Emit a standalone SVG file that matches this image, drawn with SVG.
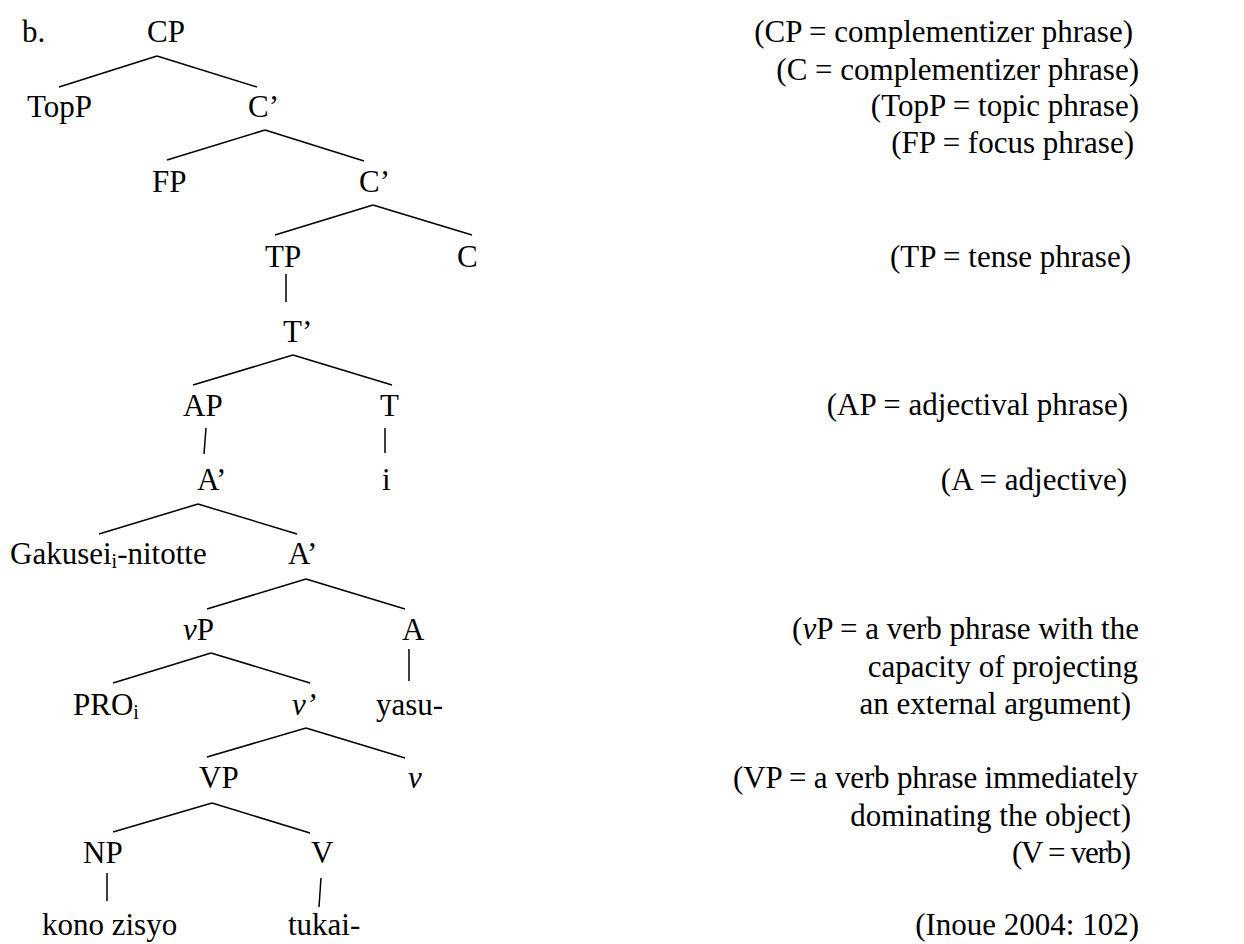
<svg xmlns="http://www.w3.org/2000/svg" width="1244" height="944" viewBox="0 0 1244 944">
<style>
text{font-family:"Liberation Serif","Times New Roman",serif;font-size:31px;fill:#000}
.r{text-anchor:end}
.it{font-style:italic}
.sub{font-size:20px}
#connectors line{stroke:#000;stroke-width:1.5;stroke-linecap:butt}
</style>
<rect width="1244" height="944" fill="#fff"/>
<g id="connectors">
<line x1="157" y1="56" x2="59" y2="87"/>
<line x1="157" y1="56" x2="257" y2="87"/>
<line x1="265" y1="130" x2="167" y2="160"/>
<line x1="265" y1="130" x2="364" y2="161"/>
<line x1="373" y1="205" x2="275" y2="235"/>
<line x1="373" y1="205" x2="472" y2="235"/>
<line x1="286" y1="274" x2="286" y2="302"/>
<line x1="293" y1="355" x2="193" y2="385"/>
<line x1="293" y1="355" x2="392" y2="385"/>
<line x1="206" y1="428" x2="204" y2="454"/>
<line x1="385" y1="428" x2="385" y2="453"/>
<line x1="198" y1="504" x2="99" y2="534"/>
<line x1="198" y1="504" x2="297" y2="534"/>
<line x1="306" y1="579" x2="207" y2="609"/>
<line x1="306" y1="579" x2="405" y2="609"/>
<line x1="211" y1="653" x2="113" y2="683"/>
<line x1="211" y1="653" x2="310" y2="683"/>
<line x1="409" y1="649" x2="409" y2="681"/>
<line x1="306" y1="728" x2="207" y2="757"/>
<line x1="306" y1="728" x2="405" y2="758"/>
<line x1="212" y1="803" x2="113" y2="832"/>
<line x1="212" y1="803" x2="310" y2="833"/>
<line x1="107" y1="873" x2="107" y2="901"/>
<line x1="321" y1="878" x2="319" y2="907"/>
</g>
<g id="label-b"><text x="22" y="42">b.</text></g>
<g id="n-CP"><text x="147" y="42">CP</text></g>
<g id="n-TopP"><text x="27" y="117">TopP</text></g>
<g id="n-C1"><text x="248" y="117">C’</text></g>
<g id="n-FP"><text x="152" y="192">FP</text></g>
<g id="n-C2"><text x="359" y="192">C’</text></g>
<g id="n-TP"><text x="265" y="267">TP</text></g>
<g id="n-C"><text x="457" y="267">C</text></g>
<g id="n-Tbar"><text x="283" y="342">T’</text></g>
<g id="n-AP"><text x="183" y="416">AP</text></g>
<g id="n-T"><text x="380" y="416">T</text></g>
<g id="n-Abar1"><text x="197" y="490">A’</text></g>
<g id="n-i"><text x="382" y="490">i</text></g>
<g id="n-Gakusei"><text x="10" y="564">Gakusei<tspan class="sub" dy="4">i</tspan><tspan dy="-4">-nitotte</tspan></text></g>
<g id="n-Abar2"><text x="288" y="564">A’</text></g>
<g id="n-vP"><text x="183" y="640"><tspan class="it">v</tspan>P</text></g>
<g id="n-A"><text x="402" y="640">A</text></g>
<g id="n-PRO"><text x="73" y="715">PRO<tspan class="sub" dy="4">i</tspan></text></g>
<g id="n-vbar"><text x="292" y="715" class="it">v’</text></g>
<g id="n-yasu"><text x="376" y="715">yasu-</text></g>
<g id="n-VP"><text x="199" y="788">VP</text></g>
<g id="n-v"><text x="408" y="788" class="it">v</text></g>
<g id="n-NP"><text x="83" y="863">NP</text></g>
<g id="n-V"><text x="311" y="863">V</text></g>
<g id="n-kono"><text x="42" y="935">kono zisyo</text></g>
<g id="n-tukai"><text x="288" y="935">tukai-</text></g>
<g id="legend">
<text class="r" x="1133" y="42">(CP = complementizer phrase)</text>
<text class="r" x="1139" y="80">(C = complementizer phrase)</text>
<text class="r" x="1139" y="116">(TopP = topic phrase)</text>
<text class="r" x="1134" y="153">(FP = focus phrase)</text>
<text class="r" x="1131" y="267">(TP = tense phrase)</text>
<text class="r" x="1128" y="415">(AP = adjectival phrase)</text>
<text class="r" x="1127" y="490">(A = adjective)</text>
<text class="r" x="1139" y="639">(<tspan class="it">v</tspan>P = a verb phrase with the</text>
<text class="r" x="1138" y="677">capacity of projecting</text>
<text class="r" x="1131" y="714">an external argument)</text>
<text x="733" y="788" textLength="405" lengthAdjust="spacing">(VP = a verb phrase immediately</text>
<text class="r" x="1131" y="826">dominating the object)</text>
<text x="1012" y="863" textLength="119" lengthAdjust="spacing">(V = verb)</text>
<text class="r" x="1139" y="935">(Inoue 2004: 102)</text>
</g>
</svg>
